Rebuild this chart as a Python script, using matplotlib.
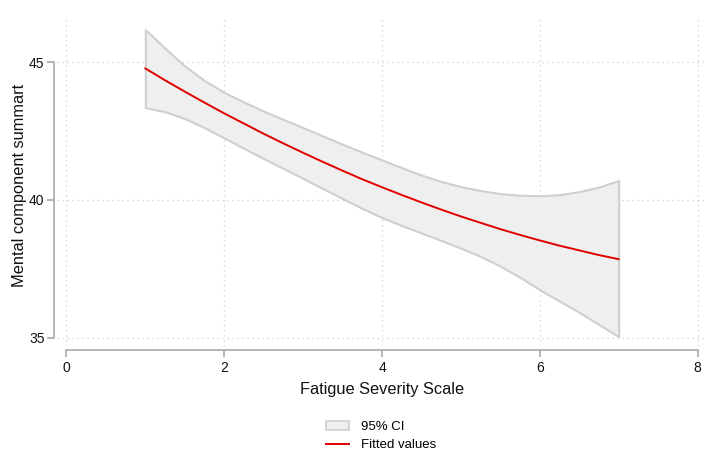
import matplotlib
matplotlib.use('Agg')
import matplotlib.pyplot as plt
from matplotlib.patches import Patch
from matplotlib.lines import Line2D

plt.rcParams['font.family'] = ['Liberation Sans', 'DejaVu Sans']

# fatigue severity scale grid
fss = [1.00, 1.25, 1.50, 1.75, 2.00, 2.25, 2.50, 2.75, 3.00, 3.25, 3.50, 3.75, 4.00,
       4.25, 4.50, 4.75, 5.00, 5.25, 5.50, 5.75, 6.00, 6.25, 6.50, 6.75, 7.00]
# fitted values
fitted = [44.77, 44.34, 43.93, 43.53, 43.14, 42.77, 42.40, 42.05, 41.71, 41.38, 41.06, 40.75, 40.46,
          40.18, 39.91, 39.65, 39.40, 39.17, 38.94, 38.73, 38.53, 38.34, 38.17, 38.00, 37.85]
# 95% CI
ci_upper = [46.18, 45.50, 44.86, 44.33, 43.90, 43.55, 43.22, 42.92, 42.62, 42.32, 42.02, 41.73, 41.45,
            41.17, 40.90, 40.67, 40.48, 40.34, 40.23, 40.17, 40.15, 40.19, 40.30, 40.47, 40.70]
ci_lower = [43.35, 43.20, 42.95, 42.62, 42.25, 41.87, 41.50, 41.14, 40.78, 40.41, 40.05, 39.69, 39.36,
            39.07, 38.80, 38.53, 38.25, 37.95, 37.60, 37.19, 36.74, 36.33, 35.92, 35.48, 35.04]

xticks = [0, 2, 4, 6, 8]
yticks = [35, 40, 45]

fig = plt.figure(figsize=(7.23, 4.58), dpi=100)
ax = fig.add_axes([57 / 723, 1 - 346 / 458, 650 / 723, 328 / 458])

ax.fill_between(fss, ci_lower, ci_upper, facecolor='#efefef', edgecolor='#cfcfcf', linewidth=1.5, zorder=2)
ax.plot(fss, fitted, color='#e00000', linewidth=1.4, zorder=3)

ax.set_xlim(-0.12, 8.12)
ax.set_ylim(34.7, 46.6)
ax.set_xticks(xticks)
ax.set_yticks(yticks)

# grid
ax.grid(True, linestyle=(0, (1, 3)), color='#d0d0d0', linewidth=0.9, zorder=0)

# stata-like detached axes
for s in ['top', 'right']:
    ax.spines[s].set_visible(False)
ax.spines['left'].set_position(('outward', 2))
ax.spines['bottom'].set_position(('outward', 3))
ax.spines['left'].set_bounds(35, 45)
ax.spines['bottom'].set_bounds(0, 8)
for s in ['left', 'bottom']:
    ax.spines[s].set_color('#b0b0b0')
    ax.spines[s].set_linewidth(1.3)
ax.tick_params(axis='both', colors='#b0b0b0', length=5, width=1.3, labelcolor='#111111', labelsize=10)
ax.tick_params(axis='x', pad=2.5)
ax.tick_params(axis='y', pad=2)

ax.set_xlabel('Fatigue Severity Scale', fontsize=11.8, color='#111111', labelpad=5)
ax.set_ylabel('Mental component summart', fontsize=11.8, color='#111111')
ax.yaxis.set_label_coords((27 - 57) / 650, (346 - 185) / 328)

handles = [Patch(facecolor='#efefef', edgecolor='#cfcfcf', linewidth=1.2, label='95% CI'),
           Line2D([0], [0], color='#e00000', linewidth=1.4, label='Fitted values')]
fig.legend(handles=handles, loc='upper center', bbox_to_anchor=(381 / 723, 1 - 409 / 458), frameon=False,
           fontsize=9.5, handlelength=1.75, handletextpad=0.85, labelspacing=0.45)

plt.savefig('out.png', dpi=100)
